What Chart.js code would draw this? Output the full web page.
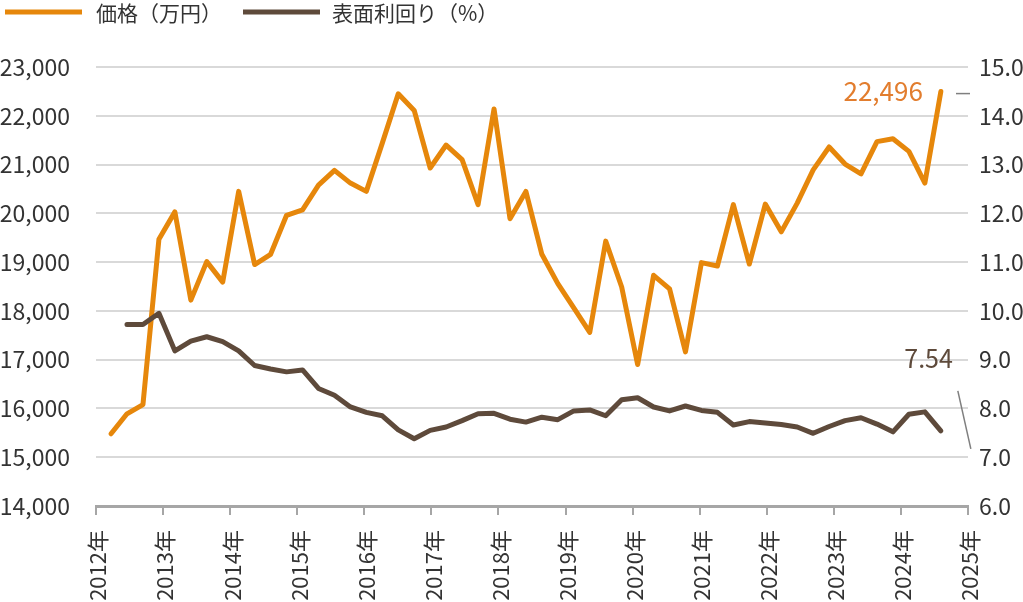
<!DOCTYPE html>
<html lang="ja">
<head>
<meta charset="utf-8">
<script src="https://cdn.jsdelivr.net/npm/chart.js@4.4.1/dist/chart.umd.min.js"></script>
<style>
  html, body { margin: 0; padding: 0; background: #ffffff; }
  #wrap { position: relative; width: 1023px; height: 602px; }
</style>
</head>
<body>
<div id="wrap"><canvas id="c"></canvas></div>
<script>
// ---- data ----
const seriesNames = ['価格（万円）', '表面利回り（%）'];
const yearTicks = [2012, 2013, 2014, 2015, 2016, 2017, 2018, 2019, 2020, 2021, 2022, 2023, 2024, 2025];
const periods = [
  2012.224, 2012.462, 2012.700, 2012.938, 2013.176, 2013.414, 2013.651, 2013.889,
  2014.127, 2014.365, 2014.603, 2014.841, 2015.079, 2015.317, 2015.555, 2015.793,
  2016.030, 2016.268, 2016.506, 2016.744, 2016.982, 2017.220, 2017.458, 2017.696,
  2017.934, 2018.172, 2018.409, 2018.647, 2018.885, 2019.123, 2019.361, 2019.599,
  2019.837, 2020.075, 2020.313, 2020.551, 2020.788, 2021.026, 2021.264, 2021.502,
  2021.740, 2021.978, 2022.216, 2022.454, 2022.692, 2022.930, 2023.167, 2023.405,
  2023.643, 2023.881, 2024.119, 2024.357, 2024.595
];
const price = [
  15480, 15890, 16080, 19470, 20030, 18220, 19010, 18590,
  20450, 18950, 19160, 19960, 20070, 20580, 20880, 20620,
  20450, 21440, 22450, 22110, 20930, 21400, 21100, 20180,
  22140, 19890, 20450, 19160, 18560, 18060, 17560, 19430,
  18490, 16900, 18730, 18450, 17160, 18990, 18920, 20180,
  18960, 20190, 19620, 20210, 20890, 21360, 21010, 20810,
  21470, 21530, 21270, 20620, 22496
];
const yieldPct = [
  null, 9.72, 9.72, 9.95, 9.18, 9.38, 9.47, 9.37,
  9.18, 8.88, 8.81, 8.75, 8.79, 8.41, 8.27, 8.03,
  7.92, 7.85, 7.56, 7.38, 7.55, 7.62, 7.75, 7.89,
  7.90, 7.78, 7.72, 7.82, 7.77, 7.95, 7.97, 7.85,
  8.18, 8.22, 8.03, 7.95, 8.05, 7.96, 7.92, 7.66,
  7.73, 7.70, 7.67, 7.62, 7.49, 7.63, 7.75, 7.81,
  7.68, 7.52, 7.88, 7.93, 7.54
];

// ---- styles ----
const ORANGE = '#E6870B';
const BROWN = '#5E4A3B';
const LABEL_ORANGE = '#E27D2E';
const TEXT = '#333333';
const GRID = '#D9D9D9';
const AXIS = '#A6A6A6';
const FONT = '"Noto Sans CJK JP", "Noto Sans", sans-serif';

const toPoints = (xs, ys) => xs.map((x, i) => ({ x: x, y: ys[i] }));

const legendPlugin = {
  id: 'topLegend',
  afterDraw(chart) {
    const ctx = chart.ctx;
    const items = [
      { text: chart.data.datasets[1].label, color: chart.data.datasets[1].borderColor, x0: 5, x1: 82, tx: 96 },
      { text: chart.data.datasets[0].label, color: chart.data.datasets[0].borderColor, x0: 243, x1: 320, tx: 332 }
    ];
    ctx.save();
    items.forEach(it => {
      ctx.strokeStyle = it.color;
      ctx.lineWidth = 5;
      ctx.lineCap = 'butt';
      ctx.beginPath();
      ctx.moveTo(it.x0, 12);
      ctx.lineTo(it.x1, 12);
      ctx.stroke();
      ctx.fillStyle = TEXT;
      ctx.font = '21px ' + FONT;
      ctx.textBaseline = 'middle';
      ctx.textAlign = 'left';
      ctx.fillText(it.text, it.tx, 13);
    });
    ctx.restore();
  }
};

const endLabelPlugin = {
  id: 'endLabels',
  afterDatasetsDraw(chart) {
    const ctx = chart.ctx;
    const area = chart.chartArea;
    const pMeta = chart.getDatasetMeta(1);
    const yMeta = chart.getDatasetMeta(0);
    const pLast = pMeta.data[pMeta.data.length - 1];
    const yLast = yMeta.data[yMeta.data.length - 1];
    const pVal = price[price.length - 1];
    const yVal = yieldPct[yieldPct.length - 1];
    ctx.save();
    ctx.textBaseline = 'middle';
    ctx.textAlign = 'right';
    ctx.font = '26px ' + FONT;
    ctx.fillStyle = LABEL_ORANGE;
    ctx.fillText(pVal.toLocaleString('en-US'), pLast.x - 18, pLast.y);
    ctx.font = '25px ' + FONT;
    ctx.fillStyle = BROWN;
    ctx.fillText(yVal.toFixed(2), yLast.x + 12, yLast.y - 72);
    // leader marks
    ctx.strokeStyle = '#7F7F7F';
    ctx.lineWidth = 1.5;
    ctx.beginPath();
    ctx.moveTo(area.right - 12, pLast.y + 2);
    ctx.lineTo(area.right + 2, pLast.y + 2);
    ctx.stroke();
    ctx.beginPath();
    ctx.moveTo(yLast.x + 17, yLast.y - 40);
    ctx.lineTo(yLast.x + 30, yLast.y + 18);
    ctx.stroke();
    ctx.restore();
  }
};

new Chart(document.getElementById('c'), {
  type: 'line',
  data: {
    datasets: [
      {
        label: seriesNames[1],
        data: toPoints(periods, yieldPct),
        yAxisID: 'y1',
        borderColor: BROWN,
        backgroundColor: BROWN,
        borderWidth: 5,
        pointRadius: 0,
        tension: 0,
        borderJoinStyle: 'round',
        borderCapStyle: 'round',
        spanGaps: false,
        order: 1
      },
      {
        label: seriesNames[0],
        data: toPoints(periods, price),
        yAxisID: 'y',
        borderColor: ORANGE,
        backgroundColor: ORANGE,
        borderWidth: 5,
        pointRadius: 0,
        tension: 0,
        borderJoinStyle: 'round',
        borderCapStyle: 'round',
        order: 2
      }
    ]
  },
  options: {
    responsive: true,
    maintainAspectRatio: false,
    animation: false,
    layout: { padding: { top: 67, left: 0, right: 0, bottom: 0 } },
    plugins: {
      legend: { display: false },
      tooltip: { enabled: false }
    },
    scales: {
      x: {
        type: 'linear',
        min: yearTicks[0],
        max: yearTicks[yearTicks.length - 1],
        afterBuildTicks: (scale) => { scale.ticks = yearTicks.map(v => ({ value: v })); },
        afterFit: (scale) => { scale.height = 96; },
        grid: { drawOnChartArea: false, drawTicks: true, tickLength: 9, color: AXIS, lineWidth: 2 },
        border: { display: true, color: AXIS, width: 3 },
        ticks: {
          autoSkip: false,
          minRotation: 90,
          maxRotation: 90,
          padding: 15,
          labelOffset: 2,
          color: TEXT,
          font: { family: FONT, size: 22 },
          callback: (v) => v + '年'
        }
      },
      y: {
        position: 'left',
        min: 14000,
        max: 23000,
        afterFit: (scale) => { scale.width = 96; },
        grid: { drawTicks: false, color: GRID, lineWidth: 2 },
        border: { display: false },
        ticks: {
          stepSize: 1000,
          padding: 26,
          color: TEXT,
          font: { family: FONT, size: 23 },
          callback: (v) => v.toLocaleString('en-US')
        }
      },
      y1: {
        position: 'right',
        min: 6,
        max: 15,
        afterFit: (scale) => { scale.width = 55; },
        grid: { display: false, drawTicks: false },
        border: { display: false },
        ticks: {
          stepSize: 1,
          padding: 11,
          color: TEXT,
          font: { family: FONT, size: 23 },
          callback: (v) => v.toFixed(1)
        }
      }
    }
  },
  plugins: [legendPlugin, endLabelPlugin]
});
</script>
</body>
</html>
